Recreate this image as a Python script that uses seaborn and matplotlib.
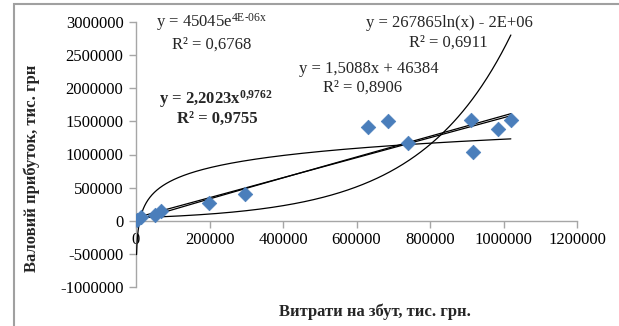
import numpy as np
import pandas as pd
import matplotlib
matplotlib.use("Agg")
import matplotlib.pyplot as plt
import seaborn as sns
from matplotlib.patches import Rectangle

# ---- data ----
costs = [1500, 14000, 51000, 69000, 198000, 296000, 630000, 686000, 740000,
         911000, 916000, 986000, 1020000]
profit = [5000, 50000, 90000, 140000, 271000, 410000, 1418000, 1508000, 1172000,
          1523000, 1045000, 1388000, 1523000]

x_ticks = [0, 200000, 400000, 600000, 800000, 1000000, 1200000]
y_ticks = [-1000000, -500000, 0, 500000, 1000000, 1500000, 2000000, 2500000, 3000000]

# trendline coefficients (as shown on the chart; rounded ones estimated)
exp_a, exp_b = 45045, 4.05e-6
log_a, log_b = 267865, -2.47e6
lin_a, lin_b = 1.5088, 46384
pow_a, pow_b = 2.2023, 0.9762

x_label = "Витрати на збут, тис. грн."
y_label = "Валовий прибуток, тис. грн"

# ---- style ----
sns.set_theme(style="white")
plt.rcParams["font.family"] = ["Liberation Serif", "DejaVu Serif"]
plt.rcParams["mathtext.fontset"] = "custom"
plt.rcParams["mathtext.rm"] = "Liberation Serif"
plt.rcParams["mathtext.it"] = "Liberation Serif"
plt.rcParams["mathtext.bf"] = "Liberation Serif:bold"

W, H = 619, 326
fig = plt.figure(figsize=(W / 100, H / 100), dpi=100)
ax = fig.add_axes([136 / W, 1 - 287 / H, (577 - 136) / W, (287 - 22) / H])

df = pd.DataFrame({"x": costs, "y": profit})
xs = np.unique(np.concatenate([np.geomspace(min(costs), max(costs), 400),
                               np.linspace(min(costs), max(costs), 400)]))
curves = {
    "exp": exp_a * np.exp(exp_b * xs),
    "log": log_a * np.log(xs) + log_b,
    "lin": lin_a * xs + lin_b,
    "pow": pow_a * xs ** pow_b,
}
for name, ys in curves.items():
    sns.lineplot(x=xs, y=ys, ax=ax, color="black", linewidth=0.9, sort=False,
                 zorder=3)

sns.scatterplot(data=df, x="x", y="y", ax=ax, marker="D", s=55,
                color="#4a7ebb", edgecolor="#4a7ebb", linewidth=0.5, zorder=4)

ax.set_xlim(0, 1200000)
ax.set_ylim(-1000000, 3000000)
ax.set_xticks(x_ticks)
ax.set_yticks(y_ticks)
ax.set_xticklabels([str(v) for v in x_ticks])
ax.set_yticklabels([str(v) for v in y_ticks])
ax.set_xlabel("")
ax.set_ylabel("")

for s in ["top", "right"]:
    ax.spines[s].set_visible(False)
ax.spines["bottom"].set_position(("data", 0))
for s in ["left", "bottom"]:
    ax.spines[s].set_color("#a6a6a6")
    ax.spines[s].set_linewidth(1.0)
ax.tick_params(axis="both", which="both", direction="out", length=5, width=1,
               color="#a6a6a6", labelsize=12, labelcolor="black", pad=4,
               left=True, bottom=True)
ax.tick_params(axis="x", pad=3)
ax.patch.set_alpha(0)

# axis titles
fig.text(375 / W, 1 - 312 / H, x_label, ha="center", va="center",
         fontsize=12, fontweight="bold")
fig.text(32 / W, 1 - 168 / H, y_label, ha="center", va="center",
         fontsize=12, fontweight="bold", rotation=90)

# trendline labels
def ftext(x, y, s, **kw):
    fig.text(x / W, 1 - y / H, s, ha="center", va="center", fontsize=12, **kw)

ftext(212, 22, r"y = 45045e$^{\mathregular{4E\text{-}06x}}$")
ftext(212, 45, "R² = 0,6768")
ftext(449, 23, "y = 267865ln(x) - 2E+06")
ftext(448, 43, "R² = 0,6911")
ftext(369, 69, "y = 1,5088x + 46384")
ftext(363, 88, "R² = 0,8906")
ftext(216, 99, r"y = 2,2023x$^{\mathbf{0{,}9762}}$", fontweight="bold")
ftext(217, 119, "R² = 0,9755", fontweight="bold")

# outer chart-area border
fig.patches.append(Rectangle((14 / W, -0.05), 1.05, 1 - 4 / H + 0.05,
                             transform=fig.transFigure, fill=False,
                             edgecolor="#a0a0a0", linewidth=1.5))

fig.savefig("out.png", dpi=100)
